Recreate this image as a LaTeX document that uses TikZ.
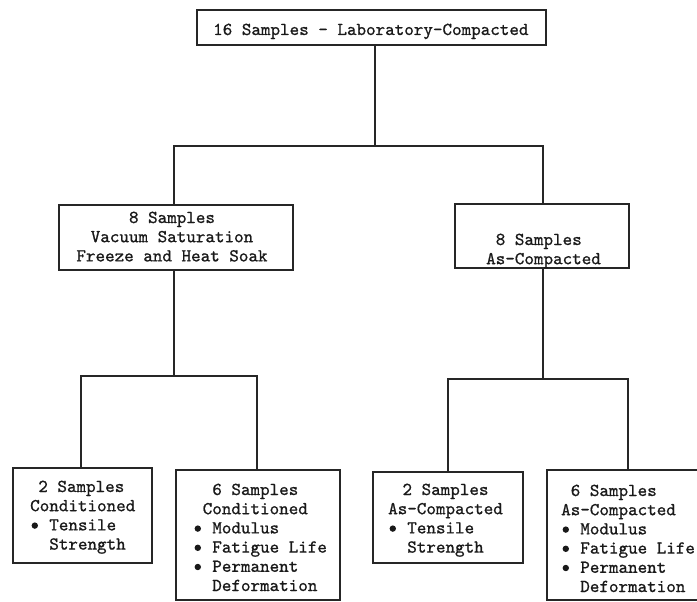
\documentclass[tikz,border=0pt]{standalone}
\usepackage{fontspec}
\newfontface\typew{lmmono10-regular.otf}[FakeBold=0.9]
\newcommand\sk[1]{\hspace*{#1\dimexpr0.525em\relax}}
\begin{document}
\begin{tikzpicture}[x=1pt,y=-1pt,
  boxstyle/.style={draw=black!85,line width=1.2pt,rectangle,inner sep=0pt},
  wire/.style={draw=black!85,line width=1.2pt},
  dotstyle/.style={fill=black!90},
  txt/.style={font=\fontsize{18.2}{19.2}\selectfont\typew,inner sep=0pt,anchor=base west,text=black!90,align=left},
  ctxt/.style={txt,anchor=base,align=center}]
\useasboundingbox (0,0) rectangle (697,602);
% boxes
\node[boxstyle,minimum width=349pt,minimum height=35pt] (top) at (371.5,27.5) {};
\node[boxstyle,minimum width=234pt,minimum height=65pt] (L) at (176,237.5) {};
\node[boxstyle,minimum width=174pt,minimum height=64pt] (R) at (542,236) {};
\node[boxstyle,minimum width=139pt,minimum height=95pt] (B1) at (82.5,515.5) {};
\node[boxstyle,minimum width=164pt,minimum height=130pt] (B2) at (258,535) {};
\node[boxstyle,minimum width=150pt,minimum height=91pt] (B3) at (448,517.5) {};
\node[boxstyle,minimum width=158pt,minimum height=130pt] (B4) at (626,535) {};
% junctions
\coordinate (j1) at (375,146);
\coordinate (hl) at (174,146);
\coordinate (hr) at (543,146);
\coordinate (j2) at (174,376);
\coordinate (h2l) at (81,376);
\coordinate (h2r) at (257,376);
\coordinate (j3) at (543,379);
\coordinate (h3l) at (448,379);
\coordinate (h3r) at (628,379);
% connectors
\draw[wire] (j1 |- top.south) -- (j1);
\draw[wire] (hl |- L.north) -- (hl) -- (hr) -- (hr |- R.north);
\draw[wire] (j2 |- L.south) -- (j2);
\draw[wire] (h2l |- B1.north) -- (h2l) -- (h2r) -- (h2r |- B2.north);
\draw[wire] (j3 |- R.south) -- (j3);
\draw[wire] (h3l |- B3.north) -- (h3l) -- (h3r) -- (h3r |- B4.north);
% texts (anchored at the baseline of the last line)
\node[txt] (t0) at (213,35) {16 Samples - Laboratory-Compacted};
\node[ctxt] (lt) at (172,261.4) {8 Samples\\Vacuum Saturation\\Freeze and Heat Soak};
\node[txt] (rt) at (486,264.2) {\sk{1}8 Samples\\As-Compacted};
\node[txt] (at) at (30,549.6) {\sk{0.85}2 Samples\\Conditioned\\\sk{2}Tensile\\\sk{2}Strength};
\node[txt] (bt) at (193,591) {\sk{2}6 Samples\\\sk{1}Conditioned\\\sk{2}Modulus\\\sk{2}Fatigue Life\\\sk{2}Permanent\\\sk{2}Deformation};
\node[txt] (ct) at (388,552.6) {\sk{1.5}2 Samples\\As-Compacted\\\sk{2}Tensile\\\sk{2}Strength};
\node[txt] (dt) at (561,592) {\sk{1}6 Samples\\As-Compacted\\\sk{2}Modulus\\\sk{2}Fatigue Life\\\sk{2}Permanent\\\sk{2}Deformation};
% bullets
\foreach \p in {(34.8,525.6),(197.8,528.6),(197.8,547.8),(197.8,567),
                (392.8,528.6),(565.8,529.6),(565.8,548.8),(565.8,568)}
  \fill[dotstyle] \p circle (3.2pt);
\end{tikzpicture}
\end{document}
